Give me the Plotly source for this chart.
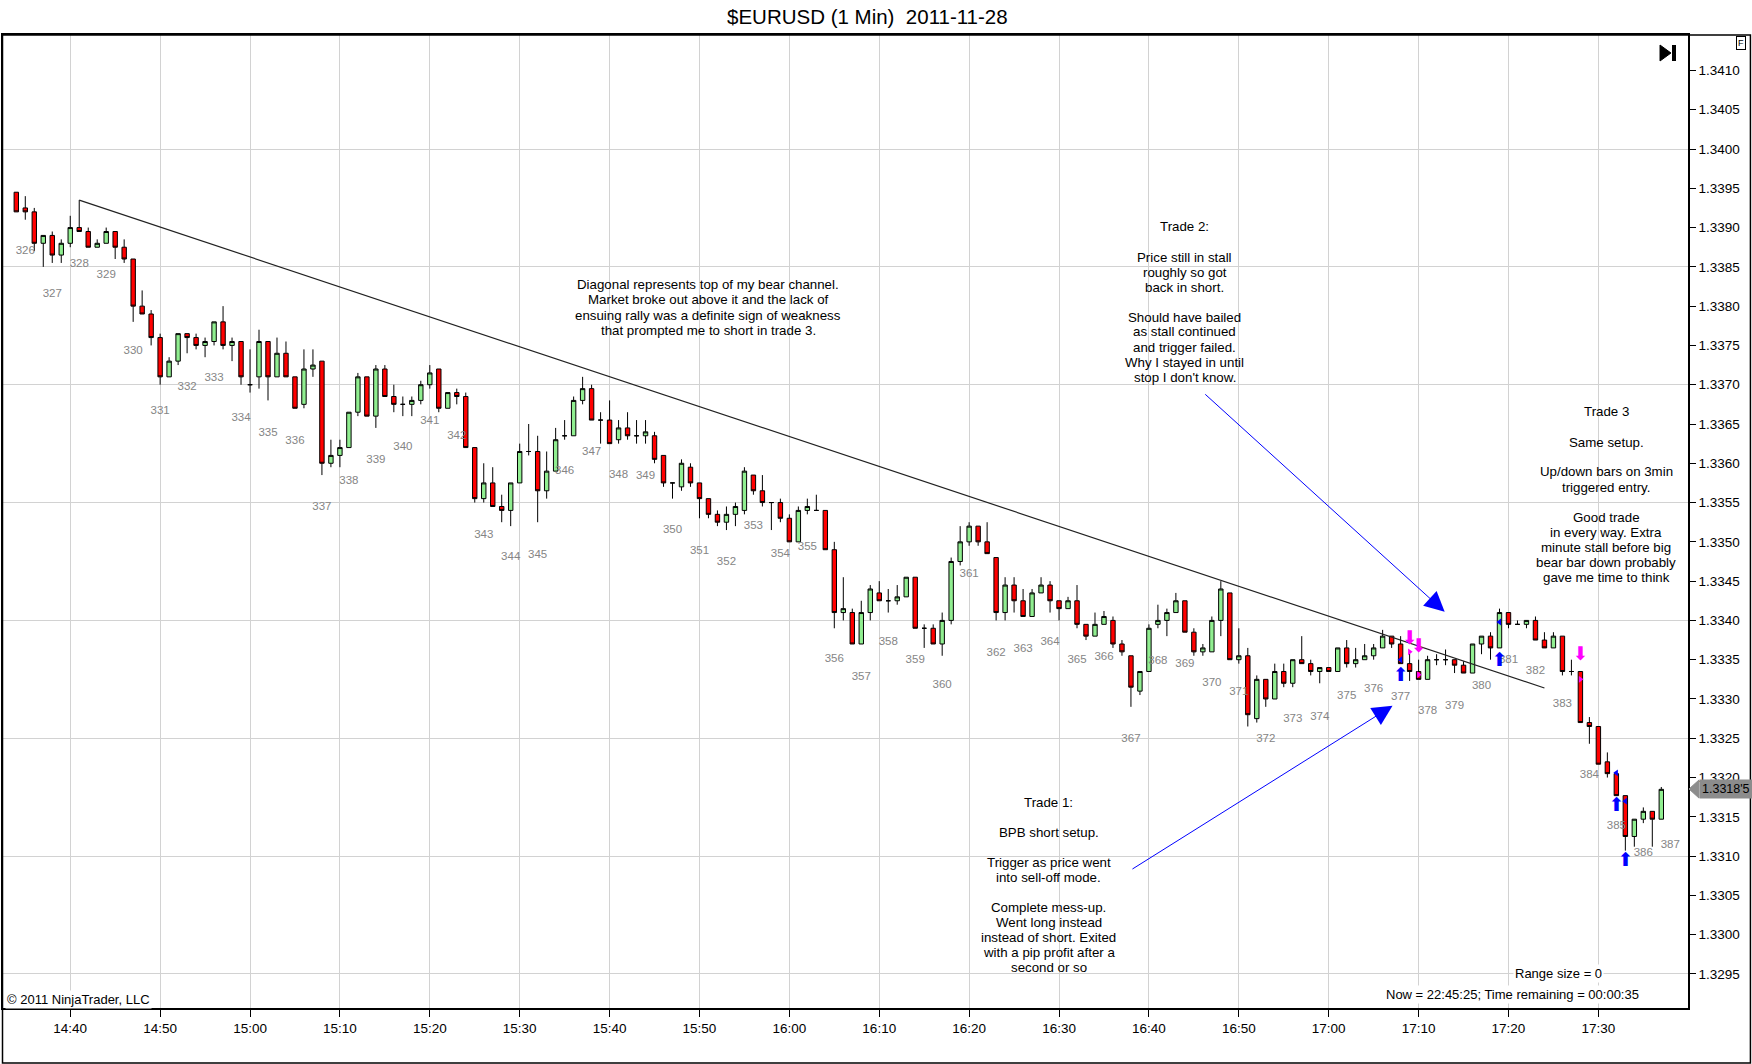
import plotly.graph_objects as go

# 1-minute EURUSD bars, 14:34 .. 17:37
start_minute = 14 * 60 + 34

opens = [
    1.33945, 1.33925, 1.3392, 1.3388, 1.3389, 1.33865,
    1.3388, 1.3390, 1.33895, 1.33875, 1.3388, 1.33895, 1.33875, 1.3386, 1.3380, 1.3379,
    1.3376, 1.3371, 1.3373, 1.33765, 1.3376, 1.3375, 1.33755, 1.3378, 1.3375, 1.33755,
    1.3370, 1.3371, 1.33755, 1.3371, 1.3374, 1.3371, 1.33675, 1.3372, 1.3373, 1.3360,
    1.3361, 1.3362, 1.33665, 1.3371, 1.3366, 1.3372, 1.33685, 1.33675, 1.33675, 1.3368,
    1.3370, 1.3372, 1.3367, 1.3369, 1.33685, 1.3362, 1.33555, 1.33575, 1.33545, 1.3354,
    1.33575, 1.33615, 1.33615, 1.33565, 1.3359, 1.33635, 1.33635, 1.3368, 1.33695, 1.33655,
    1.33655, 1.3363, 1.33645, 1.33635, 1.33635, 1.33635, 1.3361, 1.33575, 1.3357, 1.33595,
    1.33575, 1.33555, 1.33535, 1.33525, 1.33535, 1.3354, 1.33585, 1.33565, 1.3355, 1.3355,
    1.3353, 1.3350, 1.3354, 1.3354, 1.3354, 1.3349, 1.3341, 1.3341, 1.3337, 1.3341,
    1.33435, 1.33425, 1.33425, 1.3343, 1.33455, 1.3339, 1.3339, 1.3337, 1.3340, 1.33475,
    1.3350, 1.3352, 1.3350, 1.3348, 1.3341, 1.33445, 1.33425, 1.33405, 1.33435, 1.33445,
    1.33425, 1.33415, 1.33425, 1.33395, 1.3338, 1.33395, 1.3340, 1.3337, 1.33355, 1.3331,
    1.33335, 1.33395, 1.3340, 1.3341, 1.33425, 1.33385, 1.3336, 1.3336, 1.3340, 1.33435,
    1.3335, 1.33355, 1.33275, 1.33325, 1.3330, 1.33335, 1.3332, 1.3335, 1.33345, 1.33335,
    1.3334, 1.33335, 1.33365, 1.33345, 1.3335, 1.33355, 1.33365, 1.3338, 1.3337, 1.33345,
    1.33335, 1.33325, 1.3335, 1.3335, 1.3335, 1.33343, 1.33333, 1.3337, 1.3338, 1.33365,
    1.3341, 1.33395, 1.33395, 1.3340, 1.33375, 1.33365, 1.3338, 1.33335, 1.33335, 1.3327,
    1.33265, 1.3322, 1.33205, 1.33177, 1.33125, 1.33147, 1.33157, 1.33147,
]
highs = [
    1.33945, 1.3394, 1.33925, 1.3389, 1.33895, 1.33885,
    1.33915, 1.33935, 1.3390, 1.33885, 1.3390, 1.33895, 1.33885, 1.3386, 1.3382, 1.33795,
    1.33765, 1.33735, 1.33765, 1.33765, 1.33765, 1.3376, 1.3378, 1.3380, 1.3376, 1.33755,
    1.33745, 1.3377, 1.33755, 1.3376, 1.33755, 1.3371, 1.33745, 1.33745, 1.3373, 1.3363,
    1.3363, 1.33665, 1.33715, 1.3371, 1.33725, 1.33725, 1.3370, 1.33685, 1.33685, 1.33705,
    1.33725, 1.3372, 1.3369, 1.33695, 1.3369, 1.3362, 1.3360, 1.33595, 1.3356, 1.33575,
    1.33625, 1.3365, 1.33635, 1.33615, 1.33645, 1.33655, 1.33685, 1.3371, 1.3370, 1.33665,
    1.3368, 1.33655, 1.33665, 1.33655, 1.33655, 1.3364, 1.3361, 1.33575, 1.33605, 1.3360,
    1.33575, 1.33555, 1.3354, 1.33545, 1.3355, 1.33595, 1.33585, 1.33585, 1.3355, 1.33555,
    1.33535, 1.33545, 1.33555, 1.3356, 1.3354, 1.3350, 1.33455, 1.33415, 1.33425, 1.33445,
    1.3345, 1.3344, 1.33445, 1.33455, 1.33455, 1.33395, 1.33395, 1.3341, 1.3348, 1.3352,
    1.33525, 1.3352, 1.33525, 1.3348, 1.33455, 1.33455, 1.3344, 1.3344, 1.33455, 1.3345,
    1.33425, 1.3343, 1.33445, 1.33395, 1.3341, 1.33412, 1.33405, 1.33375, 1.33355, 1.33335,
    1.33395, 1.3342, 1.33415, 1.33435, 1.33425, 1.3339, 1.3337, 1.33405, 1.3345, 1.33435,
    1.3339, 1.33365, 1.3333, 1.33325, 1.33345, 1.33345, 1.3335, 1.3338, 1.3335, 1.3334,
    1.3334, 1.33365, 1.33375, 1.33365, 1.3337, 1.3337, 1.33388, 1.3338, 1.3338, 1.3336,
    1.3335, 1.33355, 1.33357, 1.33363, 1.3335, 1.33348, 1.3337, 1.3338, 1.33385, 1.33415,
    1.3341, 1.3340, 1.3340, 1.33405, 1.33385, 1.33385, 1.3338, 1.3335, 1.33335, 1.33277,
    1.33265, 1.33232, 1.33205, 1.33177, 1.33147, 1.33162, 1.33157, 1.33188,
]
lows = [
    1.3392, 1.3391, 1.3387, 1.3385, 1.33855, 1.33855,
    1.33875, 1.33895, 1.33875, 1.33875, 1.3388, 1.3386, 1.33855, 1.3378, 1.3379, 1.3375,
    1.3370, 1.3371, 1.33725, 1.3374, 1.33745, 1.33735, 1.3375, 1.33745, 1.3373, 1.3370,
    1.3369, 1.33695, 1.3368, 1.3371, 1.3371, 1.3367, 1.3367, 1.3371, 1.33585, 1.33595,
    1.33595, 1.3362, 1.3366, 1.3366, 1.33645, 1.33685, 1.33665, 1.3366, 1.3366, 1.33675,
    1.33695, 1.33665, 1.3367, 1.33675, 1.3362, 1.3355, 1.3355, 1.33545, 1.33525, 1.3352,
    1.33575, 1.3361, 1.33525, 1.33555, 1.3359, 1.3363, 1.33635, 1.33675, 1.33655, 1.33625,
    1.33625, 1.33625, 1.3363, 1.33625, 1.33625, 1.3360, 1.3357, 1.33555, 1.33565, 1.3357,
    1.3353, 1.3353, 1.3352, 1.33515, 1.3352, 1.33535, 1.3356, 1.33545, 1.33515, 1.33525,
    1.3350, 1.3350, 1.33535, 1.3354, 1.3349, 1.3339, 1.3340, 1.3337, 1.3337, 1.3340,
    1.33425, 1.3341, 1.3342, 1.3343, 1.3339, 1.33365, 1.3337, 1.33355, 1.33395, 1.3347,
    1.33495, 1.33495, 1.33485, 1.3340, 1.3340, 1.3341, 1.33405, 1.33405, 1.33435, 1.3341,
    1.3340, 1.33415, 1.3339, 1.33375, 1.3338, 1.33395, 1.33365, 1.33355, 1.3329, 1.33305,
    1.33335, 1.3339, 1.3338, 1.3341, 1.33385, 1.33355, 1.33355, 1.3336, 1.3338, 1.3335,
    1.33345, 1.33265, 1.3327, 1.3329, 1.3330, 1.33315, 1.33315, 1.33345, 1.3333, 1.3332,
    1.33335, 1.33335, 1.3334, 1.3334, 1.3335, 1.3335, 1.33365, 1.33365, 1.33345, 1.33323,
    1.33325, 1.33325, 1.33343, 1.33343, 1.33333, 1.33333, 1.33333, 1.33357, 1.3335, 1.33365,
    1.3339, 1.33395, 1.3339, 1.33375, 1.33365, 1.33365, 1.3333, 1.3333, 1.3327, 1.33243,
    1.33217, 1.332, 1.33177, 1.33107, 1.33112, 1.33142, 1.33112, 1.33147,
]
closes = [
    1.3392, 1.3392, 1.3388, 1.3389, 1.33865, 1.3388,
    1.3390, 1.33895, 1.33875, 1.3388, 1.33895, 1.33875, 1.3386, 1.3380, 1.3379, 1.3376,
    1.3371, 1.3373, 1.33765, 1.3376, 1.3375, 1.33755, 1.3378, 1.3375, 1.33755, 1.3371,
    1.3370, 1.33755, 1.3371, 1.3374, 1.3371, 1.3367, 1.3372, 1.33725, 1.3360, 1.3361,
    1.3362, 1.33665, 1.3371, 1.3366, 1.3372, 1.33685, 1.33675, 1.33675, 1.3368, 1.3370,
    1.33715, 1.3367, 1.3369, 1.33685, 1.3362, 1.33555, 1.33575, 1.33545, 1.3354, 1.33575,
    1.33615, 1.33615, 1.33565, 1.3359, 1.3363, 1.33635, 1.3368, 1.33695, 1.33655, 1.33655,
    1.33625, 1.33645, 1.33635, 1.33635, 1.3364, 1.33605, 1.33575, 1.33575, 1.3360, 1.33575,
    1.33555, 1.33535, 1.33525, 1.33535, 1.33545, 1.3359, 1.33565, 1.3355, 1.3355, 1.3353,
    1.3350, 1.3354, 1.33545, 1.3354, 1.3349, 1.3341, 1.33415, 1.3337, 1.3341, 1.3344,
    1.33425, 1.33425, 1.3343, 1.33455, 1.3339, 1.3339, 1.3337, 1.3340, 1.33475, 1.3350,
    1.3352, 1.3350, 1.33485, 1.3341, 1.33445, 1.33425, 1.33405, 1.33435, 1.33445, 1.33425,
    1.33415, 1.33425, 1.33395, 1.3338, 1.33395, 1.33405, 1.3337, 1.3336, 1.33315, 1.33335,
    1.3339, 1.3340, 1.3341, 1.33425, 1.33385, 1.3336, 1.33365, 1.3340, 1.3344, 1.3335,
    1.33355, 1.3328, 1.33325, 1.3330, 1.33335, 1.3332, 1.3335, 1.33345, 1.33335, 1.3334,
    1.33335, 1.33365, 1.33345, 1.3335, 1.33355, 1.33365, 1.3338, 1.3337, 1.33345, 1.33335,
    1.33325, 1.3335, 1.3335, 1.3335, 1.33343, 1.33333, 1.3337, 1.3338, 1.33365, 1.3341,
    1.33395, 1.33395, 1.3340, 1.33375, 1.33365, 1.3338, 1.33335, 1.33335, 1.3327, 1.33265,
    1.33217, 1.33205, 1.33177, 1.33125, 1.33147, 1.33157, 1.33147, 1.33185,
]

# 3-minute bar counter labels and the level they were printed at
bar_numbers = list(range(326, 388))
bar_number_levels = [
    1.33870, 1.33815, 1.33853, 1.33839, 1.33743, 1.33666, 1.33697, 1.33708, 1.33658, 1.33639,
    1.33628, 1.33544, 1.33577, 1.33604, 1.33620, 1.33654, 1.33634, 1.33508, 1.33480, 1.33483,
    1.33590, 1.33614, 1.33585, 1.33584, 1.33515, 1.33488, 1.33474, 1.33520, 1.33484, 1.33493,
    1.33351, 1.33328, 1.33373, 1.33349, 1.33318, 1.33459, 1.33359, 1.33363, 1.33373, 1.33349,
    1.33353, 1.33249, 1.33348, 1.33344, 1.33320, 1.33309, 1.33249, 1.33274, 1.33277, 1.33304,
    1.33313, 1.33303, 1.33284, 1.33291, 1.33317, 1.33349, 1.33335, 1.33293, 1.33203, 1.33138,
    1.33104, 1.33114,
]

# trendline (top of bear channel)
trend_times = ["14:41", "17:24"]
trend_prices = [1.33935, 1.33314]

# trade markers
long_arrow_times = ["17:08", "17:19", "17:32", "17:33"]
long_arrow_levels = [1.33329, 1.33348, 1.33164, 1.33094]
short_arrow_times = ["17:09", "17:10", "17:28"]
short_arrow_levels = [1.33376, 1.33366, 1.33356]
long_fill_times = ["17:08", "17:19", "17:32", "17:33"]
long_fill_prices = [1.33350, 1.33398, 1.33206, 1.33170]
short_fill_times = ["17:09", "17:10", "17:28"]
short_fill_prices = [1.33360, 1.33331, 1.33325]

x_tick_labels = ["14:40", "14:50", "15:00", "15:10", "15:20", "15:30", "15:40", "15:50", "16:00",
                 "16:10", "16:20", "16:30", "16:40", "16:50", "17:00", "17:10", "17:20", "17:30"]
y_tick_values = [1.3295, 1.3300, 1.3305, 1.3310, 1.3315, 1.3320, 1.3325, 1.3330, 1.3335, 1.3340,
                 1.3345, 1.3350, 1.3355, 1.3360, 1.3365, 1.3370, 1.3375, 1.3380, 1.3385, 1.3390,
                 1.3395, 1.3400, 1.3405, 1.3410]
y_grid_values = [1.3295, 1.3310, 1.3325, 1.3340, 1.3355, 1.3370, 1.3385, 1.3400]

last_price_text = "1.3318'5"

diagonal_note = ["Diagonal represents top of my bear channel.",
                 "Market broke out above it and the lack of",
                 "ensuing rally was a definite sign of weakness",
                 "that prompted me to short in trade 3."]
trade2_note = ["Trade 2:", "", "Price still in stall", "roughly so got", "back in short.", "",
               "Should have bailed", "as stall continued", "and trigger failed.",
               "Why I stayed in until", "stop I don't know."]
trade3_note = ["Trade 3", "", "Same setup.", "", "Up/down bars on 3min", "triggered entry.", "",
               "Good trade", "in every way. Extra", "minute stall before big",
               "bear bar down probably", "gave me time to think"]
trade1_note = ["Trade 1:", "", "BPB short setup.", "", "Trigger as price went",
               "into sell-off mode.", "", "Complete mess-up.", "Went long instead",
               "instead of short. Exited", "with a pip profit after a", "second or so"]


def minute_label(m):
    return "%d:%02d" % (m // 60, m % 60)


# plot area in page pixels: left 1, right 1688, top 35, bottom 1008
def px_x(x):
    return (x - 1) / 1687.0


def px_y(y):
    return (1008 - y) / 973.0


# axis categories (two extra minutes so the last counter label has a slot)
axis_times = [minute_label(start_minute + i) for i in range(len(opens) + 2)]
bar_times = axis_times[:len(opens)]
bar_number_times = [axis_times[1 + 3 * i] for i in range(len(bar_numbers))]

FONT = "Liberation Sans, Arial, sans-serif"
GRID = "#d2d2d2"

fig = go.Figure()

fig.add_trace(go.Candlestick(
    x=bar_times, open=opens, high=highs, low=lows, close=closes,
    increasing=dict(line=dict(color="black", width=1), fillcolor="#90ee90"),
    decreasing=dict(line=dict(color="black", width=1), fillcolor="#ff0000"),
    whiskerwidth=0, showlegend=False, hoverinfo="skip"))

# channel line
fig.add_trace(go.Scatter(x=trend_times, y=trend_prices, mode="lines",
                         line=dict(color="#222222", width=1.2),
                         showlegend=False, hoverinfo="skip"))

# bar counter labels
fig.add_trace(go.Scatter(x=bar_number_times, y=bar_number_levels, mode="text",
                         text=[str(n) for n in bar_numbers],
                         textfont=dict(family=FONT, size=11.5, color="#858585"),
                         showlegend=False, hoverinfo="skip"))

# entry / exit arrows
fig.add_trace(go.Scatter(x=long_arrow_times, y=long_arrow_levels, mode="text",
                         text=["\u2b06"] * len(long_arrow_times),
                         textfont=dict(family="DejaVu Sans", size=19, color="#0000ff"),
                         showlegend=False, hoverinfo="skip"))
fig.add_trace(go.Scatter(x=short_arrow_times, y=short_arrow_levels, mode="text",
                         text=["\u2b07"] * len(short_arrow_times),
                         textfont=dict(family="DejaVu Sans", size=19, color="#ff00ff"),
                         showlegend=False, hoverinfo="skip"))
fig.add_trace(go.Scatter(x=long_fill_times, y=long_fill_prices, mode="markers",
                         marker=dict(symbol="triangle-left", size=6, color="#0000ff"),
                         showlegend=False, hoverinfo="skip"))
fig.add_trace(go.Scatter(x=short_fill_times, y=short_fill_prices, mode="markers",
                         marker=dict(symbol="triangle-right", size=6, color="#ff00ff"),
                         showlegend=False, hoverinfo="skip"))

annotations = []
shapes = []

# note blocks: centre x, first line y, line step (page px), white box
blocks = [
    (707, 284, 15.6, diagonal_note, (568, 846, 274, 342)),
    (1184, 227, 15.0, trade2_note, (1112, 1256, 216, 388)),
    (1606, 412, 15.0, trade3_note, (1528, 1686, 400, 588)),
    (1048, 802, 15.0, trade1_note, (962, 1134, 790, 976)),
]
for cx, top, step, lines, box in blocks:
    shapes.append(dict(type="rect", xref="paper", yref="paper", layer="below",
                       x0=px_x(box[0]), x1=px_x(box[1]), y0=px_y(box[3]), y1=px_y(box[2]),
                       fillcolor="white", line=dict(width=0)))
    for i, line in enumerate(lines):
        if not line:
            continue
        annotations.append(dict(xref="paper", yref="paper", x=px_x(cx), y=px_y(top + i * step),
                                xanchor="center", yanchor="middle", text=line, showarrow=False,
                                font=dict(family=FONT, size=13.3, color="black")))

# pointer arrows for trade 2 and trade 1
annotations.append(dict(x=158.9, y=1.33411, ax=132.1, ay=1.336895, xref="x", yref="y",
                        axref="x", ayref="y", text="", showarrow=True, arrowhead=2,
                        arrowsize=4, arrowwidth=1, arrowcolor="#0000ff"))
annotations.append(dict(x=153.1, y=1.332913, ax=124.0, ay=1.330824, xref="x", yref="y",
                        axref="x", ayref="y", text="", showarrow=True, arrowhead=2,
                        arrowsize=4, arrowwidth=1, arrowcolor="#0000ff"))

annotations += [
    dict(xref="paper", yref="paper", x=px_x(867), y=px_y(16), xanchor="center", yanchor="middle",
         text="$EURUSD (1 Min)\u00a0\u00a02011-11-28", showarrow=False,
         font=dict(family=FONT, size=20.5, color="black")),
    dict(xref="paper", yref="paper", x=px_x(3), y=px_y(999), xanchor="left", yanchor="middle",
         text="\u00a9 2011 NinjaTrader, LLC", showarrow=False, bgcolor="white",
         font=dict(family=FONT, size=13, color="black")),
    dict(xref="paper", yref="paper", x=px_x(1558), y=px_y(973), xanchor="center",
         yanchor="middle", text="Range size = 0", showarrow=False, bgcolor="white",
         font=dict(family=FONT, size=13, color="black")),
    dict(xref="paper", yref="paper", x=px_x(1512), y=px_y(994), xanchor="center",
         yanchor="middle", text="Now = 22:45:25; Time remaining = 00:00:35",
         showarrow=False, bgcolor="white",
         font=dict(family=FONT, size=13, color="black")),
    dict(xref="paper", yref="paper", x=px_x(1741), y=px_y(43), xanchor="center",
         yanchor="middle", text="F", showarrow=False,
         bordercolor="black", borderwidth=1, borderpad=1, bgcolor="white",
         font=dict(family=FONT, size=9, color="black")),
    dict(xref="paper", yref="y", x=px_x(1699), y=closes[-1], xanchor="left", yanchor="middle",
         text=last_price_text, showarrow=False, bgcolor="#8c8c8c", borderpad=2,
         font=dict(family=FONT, size=12.5, color="black")),
]

shapes += [
    # outer frame
    dict(type="rect", xref="paper", yref="paper", x0=px_x(0.5), x1=px_x(1750.5),
         y0=px_y(1063), y1=px_y(35), line=dict(color="black", width=1.5)),
    # "go to last bar" icon
    dict(type="path", xref="paper", yref="paper",
         path="M %.4f,%.4f L %.4f,%.4f L %.4f,%.4f Z" % (
             px_x(1660), px_y(45), px_x(1671), px_y(53), px_x(1660), px_y(61)),
         fillcolor="black", line=dict(color="black", width=1)),
    dict(type="rect", xref="paper", yref="paper", x0=px_x(1672), x1=px_x(1676),
         y0=px_y(61), y1=px_y(45), fillcolor="black", line=dict(width=0)),
    # pointer of the last price tag
    dict(type="path", xref="paper", yref="paper",
         path="M %.4f,%.4f L %.4f,%.4f L %.4f,%.4f Z" % (
             px_x(1689), px_y(789), px_x(1699), px_y(780), px_x(1699), px_y(798)),
         fillcolor="#8c8c8c", line=dict(color="#8c8c8c", width=1)),
]

fig.update_layout(
    width=1752, height=1064,
    margin=dict(l=1, r=64, t=35, b=56),
    paper_bgcolor="white", plot_bgcolor="white",
    showlegend=False,
    annotations=annotations,
    shapes=shapes,
    font=dict(family=FONT, size=13, color="black"),
)

fig.update_xaxes(
    type="category", categoryorder="array", categoryarray=axis_times,
    range=[-1.48, 185.97],
    tickmode="array", tickvals=x_tick_labels, ticktext=x_tick_labels,
    ticks="outside", ticklen=7, tickcolor="black",
    tickfont=dict(family=FONT, size=13.5, color="black"),
    showgrid=True, gridcolor=GRID, gridwidth=1,
    showline=True, linecolor="black", linewidth=1.5, mirror=True,
    rangeslider_visible=False, fixedrange=True,
)

fig.update_yaxes(
    range=[1.329067, 1.341451], side="right",
    tickmode="array", tickvals=y_tick_values, tickformat=".4f",
    ticks="outside", ticklen=6, tickcolor="black",
    tickfont=dict(family=FONT, size=13.5, color="black"),
    showgrid=False, zeroline=False,
    minor=dict(tickvals=y_grid_values, showgrid=True, gridcolor=GRID, gridwidth=1, ticks=""),
    showline=True, linecolor="black", linewidth=1.5, mirror=True,
    fixedrange=True,
)

# the page photo starts at the window corner, so drop the default body margin
fig.write_html("out.html", config={"displayModeBar": False},
               post_script="document.body.style.margin='0px';")
